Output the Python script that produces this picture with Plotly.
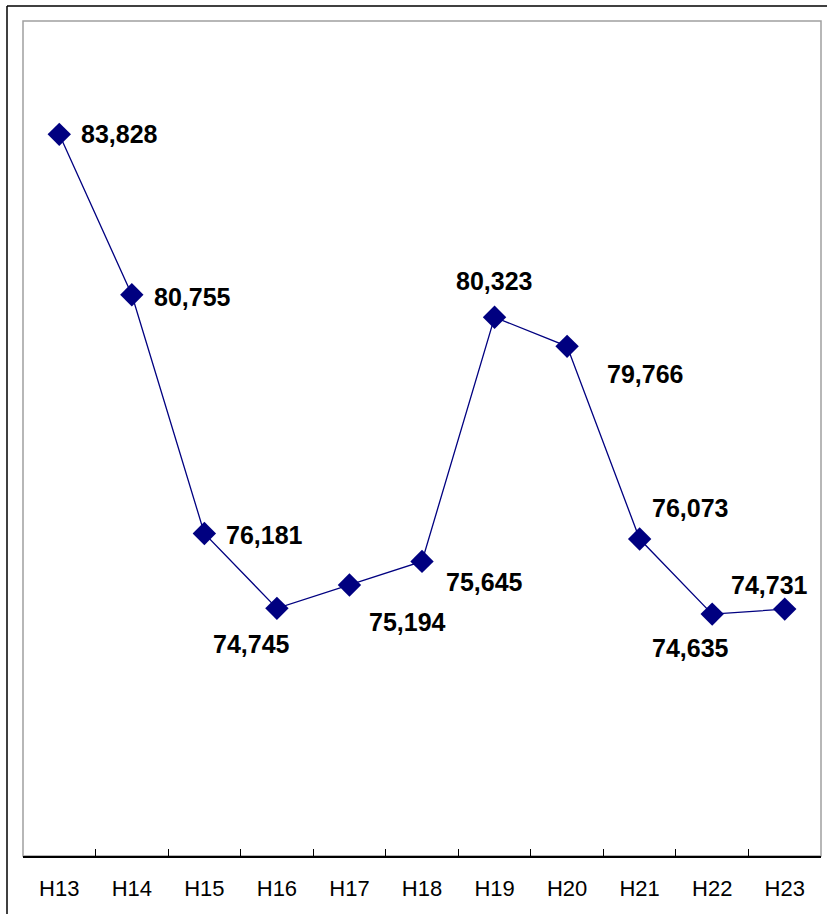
import plotly.graph_objects as go

categories = ["H13", "H14", "H15", "H16", "H17", "H18", "H19", "H20", "H21", "H22", "H23"]
values = [83828, 80755, 76181, 74745, 75194, 75645, 80323, 79766, 76073, 74635, 74731]
value_labels = ["83,828", "80,755", "76,181", "74,745", "75,194", "75,645",
                "80,323", "79,766", "76,073", "74,635", "74,731"]

# label offsets in pixels (right, down) relative to each marker
label_dx = [60, 61, 60, -25, 58, 62, -1, 78, 50, -22, -15]
label_dy = [0, 2, 2, 36, 37, 21, -36, 28, -31, 34, -24]

W, H = 827, 914
L, R, T, B = 23, 6, 21, 58

fig = go.Figure()
fig.add_trace(go.Scatter(
    x=categories, y=values, mode="lines+markers",
    line=dict(color="#000080", width=1.3),
    marker=dict(symbol="diamond", size=18, color="#000080"),
    hoverinfo="skip", showlegend=False,
))

annotations = []
for c, v, t, dx, dy in zip(categories, values, value_labels, label_dx, label_dy):
    annotations.append(dict(
        x=c, y=v, xref="x", yref="y", text=t, showarrow=False,
        xshift=dx, yshift=-dy,
        font=dict(family="Liberation Sans, Arial, sans-serif", size=25, color="black", weight="bold"),
    ))

pw, ph = W - L - R, H - T - B
shapes = [
    # plot-area frame (gray)
    dict(type="rect", xref="paper", yref="paper", x0=0, y0=0, x1=1, y1=1,
         line=dict(color="#a0a0a0", width=1.5), layer="below"),
    # outer chart border (top and left)
    dict(type="line", xref="paper", yref="paper",
         x0=(7 - L) / pw, x1=(W - L) / pw, y0=(H - B - 6) / ph, y1=(H - B - 6) / ph,
         line=dict(color="black", width=1.5)),
    dict(type="line", xref="paper", yref="paper",
         x0=(7 - L) / pw, x1=(7 - L) / pw, y0=(H - B - 6) / ph, y1=(H - B - H) / ph,
         line=dict(color="black", width=1.5)),
]

fig.update_layout(
    width=W, height=H,
    margin=dict(l=L, r=R, t=T, b=B, pad=0),
    paper_bgcolor="white", plot_bgcolor="white",
    xaxis=dict(
        type="category", range=[-0.5, 10.5],
        showline=True, linecolor="black", linewidth=1.5,
        ticks="inside", tickson="boundaries", ticklen=7, tickcolor="black", tickwidth=1,
        showgrid=False, zeroline=False,
        tickfont=dict(family="Liberation Sans, Arial, sans-serif", size=22, color="black"),
        ticklabelstandoff=12,
        fixedrange=True,
    ),
    yaxis=dict(range=[70000, 86000], visible=False, showgrid=False, zeroline=False, fixedrange=True),
    annotations=annotations,
    shapes=shapes,
)

fig.write_html("out.html")
